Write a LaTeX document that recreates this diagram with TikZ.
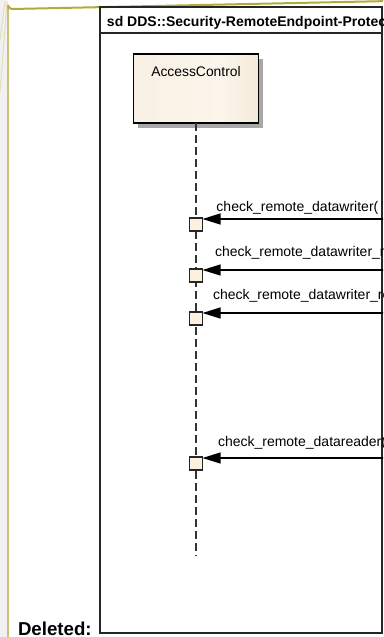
\documentclass[tikz,border=0pt]{standalone}
\usepackage{fontspec}
\setmainfont{Liberation Sans}
\usetikzlibrary{arrows.meta,calc,shadows}
\definecolor{oliveA}{HTML}{B2AA3A}
\definecolor{oliveB}{HTML}{C8C27A}
\definecolor{oliveC}{HTML}{E2DDB0}
\definecolor{stripc}{HTML}{F1F1F1}
\definecolor{acL}{HTML}{F7EDDD}
\definecolor{acM}{HTML}{FBF5EC}
\definecolor{acR}{HTML}{EAD7BB}
\definecolor{actfill}{HTML}{FCF0E0}
\definecolor{shadowc}{HTML}{A8A8A8}
\pgfdeclarehorizontalshading{acshade}{100bp}{color(0bp)=(acL); color(60bp)=(acM); color(100bp)=(acR)}
\begin{document}
\begin{tikzpicture}[x=0.75pt,y=-0.75pt,
  every node/.style={inner sep=0pt,outer sep=0pt},
  actorbox/.style={draw=black,line width=0.9pt,shading=acshade,
    minimum width=93.75pt,minimum height=51.75pt,
    drop shadow={shadow xshift=3.5pt,shadow yshift=-3.5pt,fill=shadowc,opacity=1}},
  lifeline/.style={draw=black!80,line width=0.9pt,dash pattern=on 6pt off 3pt},
  actbox/.style={draw=black!85,fill=actfill,line width=0.9pt,minimum size=9.75pt},
  msg/.style={draw=black,line width=0.9pt,-{Triangle[length=13.5pt,width=8.25pt]}},
  lbl/.style={font=\fontsize{10.5pt}{12pt}\selectfont,anchor=base west},
  frameline/.style={draw=black!85,line width=0.9pt}]
\useasboundingbox (0,0) rectangle (383,637);
\clip (0,0) rectangle (383,637);
% background strip and change-bar border
\fill[stripc] (0,0) rectangle (7.5,637);
\draw[oliveC,line width=0.6pt] (7,2) -- (0,92);
\draw[oliveC,line width=0.6pt] (5,2) -- (0,40);
\draw[oliveB,line width=1.5pt] (8,637) -- (8,5);
\draw[oliveA,line width=1.5pt] (8,5) arc[start angle=180,end angle=90,radius=4] -- (390,1);
% frame
\draw[frameline] (100,7) rectangle (382,633);
\draw[frameline] (100,33) -- (382,33);
\node[anchor=base west,font=\bfseries\fontsize{10.5pt}{12pt}\selectfont] (title) at (107,26.5) {sd DDS::Security-RemoteEndpoint-Protection};
% actor
\node[actorbox] (ac) at (196,88.5) {};
\node[anchor=base,font=\fontsize{10.4pt}{12pt}\selectfont] (actext) at (196,76) {AccessControl};
\coordinate (llend) at (196,556);
\draw[lifeline] (ac.south) -- (llend);
% activations
\node[actbox,anchor=north] (a1) at (196,218) {};
\node[actbox,anchor=north] (a2) at (196,269) {};
\node[actbox,anchor=north] (a3) at (196,312) {};
\node[actbox,anchor=north] (a4) at (196,457) {};
% message sources (off to the right)
\coordinate (m1) at (420,219);
\coordinate (m2) at (420,270);
\coordinate (m3) at (420,313);
\coordinate (m4) at (420,458);
\draw[msg] (m1) -- (a1.north east |- m1);
\draw[msg] (m2) -- (a2.north east |- m2);
\draw[msg] (m3) -- (a3.north east |- m3);
\draw[msg] (m4) -- (a4.north east |- m4);
\node[lbl] (l1) at (216.5,211) {check\_remote\_datawriter(};
\node[lbl] (l2) at (215,256) {check\_remote\_datawriter\_match(};
\node[lbl] (l3) at (213,299) {check\_remote\_datawriter\_register\_instance(};
\node[lbl] (l4) at (218,446) {check\_remote\_datareader(};
% deleted mark
\node[anchor=base west,font=\bfseries\fontsize{14pt}{16pt}\selectfont] (del) at (18,635.5) {Deleted:};
\end{tikzpicture}
\end{document}
